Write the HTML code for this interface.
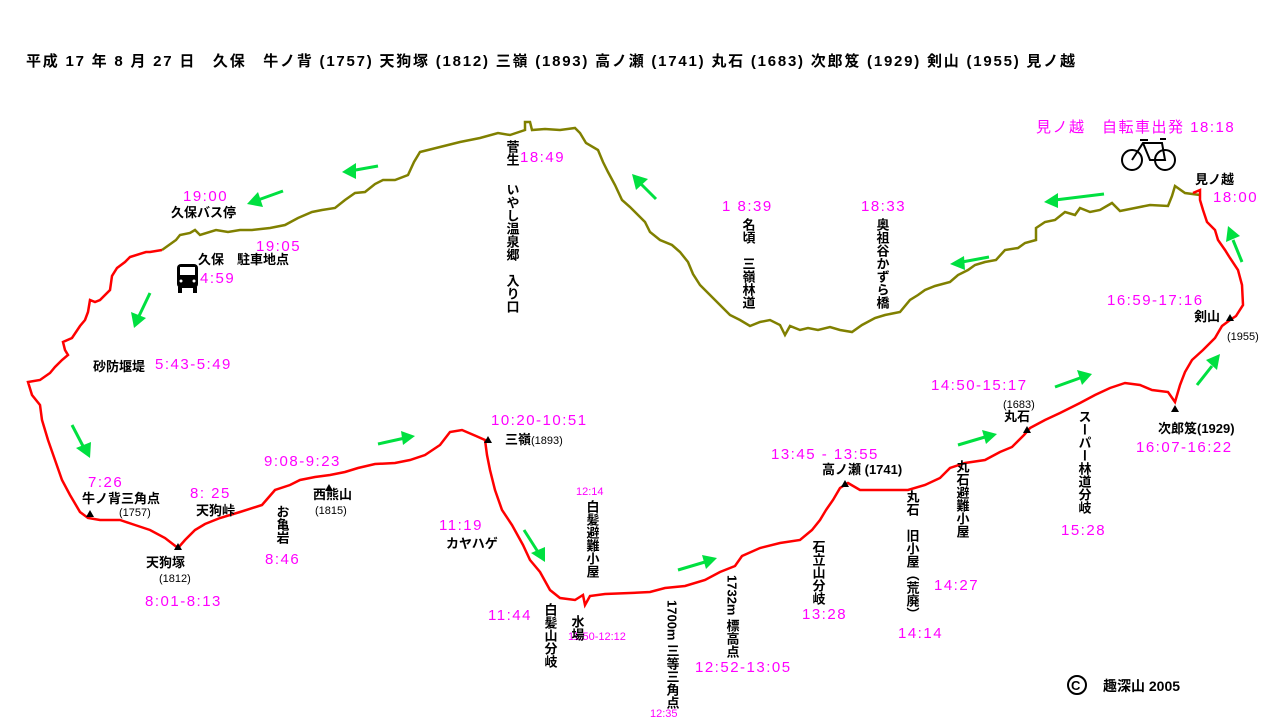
<!DOCTYPE html>
<html><head><meta charset="utf-8"><style>
html,body{margin:0;padding:0;background:#fff;}
svg{display:block;}
text{font-family:"Liberation Sans","Noto Sans CJK JP",sans-serif;}
.b{font-size:13px;fill:#000;font-weight:bold;}
.m{font-size:15px;fill:#ff00ff;letter-spacing:1.5px;}
</style></head><body>
<svg width="1280" height="725" viewBox="0 0 1280 725" xmlns="http://www.w3.org/2000/svg">
<rect width="1280" height="725" fill="#fff"/>
<text x="26" y="66" style="font-size:15px;font-weight:bold" fill="#000" textLength="1049" lengthAdjust="spacing">平成 17 年 8 月 27 日　久保　牛ノ背 (1757) 天狗塚 (1812) 三嶺 (1893) 高ノ瀬 (1741) 丸石 (1683) 次郎笈 (1929) 剣山 (1955) 見ノ越</text>

<polyline fill="none" stroke="#808000" stroke-width="2.5" points="1200,195 1185,193 1175,186 1172,196 1168,206 1150,205 1135,208 1120,211 1112,203 1100,210 1090,212 1080,208 1075,215 1065,212 1055,220 1045,222 1036,228 1036,240 1025,243 1018,248 1005,250 996,260 985,262 975,265 968,270 958,275 950,282 935,286 925,290 918,295 910,300 900,312 885,315 875,318 862,325 852,332 840,330 830,327 818,330 808,328 800,330 790,326 785,335 780,325 770,320 760,322 750,326 740,320 730,315 720,305 710,295 700,285 693,274 688,262 680,252 672,245 660,240 650,232 645,222 638,215 630,207 622,200 615,185 608,172 603,162 598,150 586,143 580,133 575,128 560,130 545,129 532,130 530,122 525,122 525,130 510,135 498,133 480,138 460,142 440,147 420,152 414,162 408,175 395,180 383,180 375,184 365,192 355,193 345,200 335,208 322,210 312,212 298,218 285,225 270,228 252,230 240,230 228,232 216,230 200,235 195,230 190,233 180,235 176,240 162,250"/>

<polyline fill="none" stroke="#ff0000" stroke-width="2.5" points="162,250 150,252 146,252 130,257 125,262 117,268 112,276 110,290 100,300 95,302 90,300 88,312 85,320 80,326 72,338 63,342 65,350 68,355 62,360 55,367 50,373 40,380 28,382 32,395 40,405 42,420 48,440 55,460 62,480 70,495 80,512 88,518 100,520 120,520 135,525 150,530 165,538 178,548 185,540 195,530 205,524 220,518 240,512 262,505 275,490 290,485 300,480 315,477 330,475 345,472 358,468 375,464 395,463 410,460 425,455 440,445 450,432 462,430 476,436 485,440 487,455 490,470 495,490 502,510 512,525 523,545 530,560 540,572 550,590 560,598 575,600 583,595 585,605 590,596 605,594 630,593 650,592 665,588 685,586 705,580 720,572 735,566 742,556 760,548 780,543 800,540 812,530 820,520 826,510 833,500 840,488 848,483 860,490 875,490 890,490 908,490 925,485 940,478 950,468 965,463 985,460 1000,452 1012,447 1024,435 1030,428 1045,420 1060,413 1080,403 1095,395 1110,388 1125,383 1140,385 1152,390 1168,392 1175,402 1180,385 1185,372 1192,360 1203,350 1215,338 1222,326 1230,320 1236,316 1243,305 1242,285 1238,270 1230,258 1225,250 1218,240 1215,230 1207,222 1203,210 1200,200 1200,190 1193,193"/>

<g fill="#00e040" stroke="#00e040" stroke-width="3">
<line x1="378" y1="166" x2="350" y2="171"/><polygon points="342,172 356,163 356,179" stroke="none"/>
<line x1="283" y1="191" x2="258" y2="200"/><polygon points="247,204 258,192 263,207" stroke="none"/>
<line x1="150" y1="293" x2="139" y2="316"/><polygon points="134,328 131,312 146,318" stroke="none"/>
<line x1="72" y1="425" x2="84" y2="448"/><polygon points="90,458 76,448 91,442" stroke="none"/>
<line x1="378" y1="444" x2="405" y2="438"/><polygon points="415,436 401,431 403,445" stroke="none"/>
<line x1="524" y1="530" x2="538" y2="552"/><polygon points="545,562 531,553 545,547" stroke="none"/>
<line x1="678" y1="570" x2="705" y2="562"/><polygon points="717,558 702,555 706,569" stroke="none"/>
<line x1="958" y1="445" x2="985" y2="437"/><polygon points="997,434 982,430 986,444" stroke="none"/>
<line x1="1055" y1="387" x2="1080" y2="378"/><polygon points="1092,374 1077,370 1082,385" stroke="none"/>
<line x1="1197" y1="385" x2="1212" y2="366"/><polygon points="1220,354 1206,360 1217,370" stroke="none"/>
<line x1="1242" y1="262" x2="1233" y2="240"/><polygon points="1228,226 1226,242 1240,236" stroke="none"/>
<line x1="1104" y1="194" x2="1055" y2="200"/><polygon points="1044,202 1058,193 1058,208" stroke="none"/>
<line x1="989" y1="257" x2="962" y2="262"/><polygon points="950,264 964,256 965,270" stroke="none"/>
<line x1="656" y1="199" x2="641" y2="184"/><polygon points="632,174 636,190 648,179" stroke="none"/>
</g>

<g fill="#000">
<polygon points="90,510 94,517 86,517"/><polygon points="178,543 182,550 174,550"/><polygon points="329,484 333,491 325,491"/>
<polygon points="488,436 492,443 484,443"/><polygon points="845,480 849,487 841,487"/><polygon points="1027,426 1031,433 1023,433"/>
<polygon points="1175,405 1179,412 1171,412"/><polygon points="1230,314 1234,321 1226,321"/>
</g>

<g>
<rect x="177" y="264" width="21" height="24" rx="4" fill="#000"/>
<rect x="180" y="267" width="15" height="8" fill="#fff"/>
<rect x="178" y="287" width="4" height="6" fill="#000"/><rect x="193" y="287" width="4" height="6" fill="#000"/>
<circle cx="181" cy="281" r="1.5" fill="#fff"/><circle cx="194" cy="281" r="1.5" fill="#fff"/>
</g>
<g fill="none" stroke="#000" stroke-width="2">
<circle cx="1132" cy="160" r="10"/><circle cx="1165" cy="160" r="10"/>
<polyline points="1132,160 1143,143 1162,143 1165,160 1150,160 1143,143"/>
<line x1="1140" y1="140" x2="1148" y2="140"/><line x1="1160" y1="139" x2="1166" y2="139"/>
</g>

<g class="m">
<text x="1036" y="132">見ノ越　自転車出発 18:18</text>
<text x="1213" y="202">18:00</text>
<text x="1107" y="305">16:59-17:16</text>
<text x="931" y="390">14:50-15:17</text>
<text x="1136" y="452">16:07-16:22</text>
<text x="771" y="459">13:45 - 13:55</text>
<text x="1061" y="535">15:28</text>
<text x="934" y="590">14:27</text>
<text x="898" y="638">14:14</text>
<text x="802" y="619">13:28</text>
<text x="695" y="672">12:52-13:05</text>
<text x="488" y="620">11:44</text>
<text x="439" y="530">11:19</text>
<text x="491" y="425">10:20-10:51</text>
<text x="264" y="466">9:08-9:23</text>
<text x="190" y="498">8: 25</text>
<text x="265" y="564">8:46</text>
<text x="145" y="606">8:01-8:13</text>
<text x="88" y="487">7:26</text>
<text x="155" y="369">5:43-5:49</text>
<text x="200" y="283">4:59</text>
<text x="256" y="251">19:05</text>
<text x="183" y="201">19:00</text>
<text x="520" y="162">18:49</text>
<text x="722" y="211">1 8:39</text>
<text x="861" y="211">18:33</text>
</g>
<g style="font-size:11px" fill="#ff00ff">
<text x="576" y="495">12:14</text>
<text x="568" y="640">11:50-12:12</text>
<text x="650" y="717">12:35</text>
</g>

<g class="b">
<text x="1195" y="184">見ノ越</text>
<text x="1194" y="321">剣山</text>
<text x="1227" y="340" style="font-size:11px;font-weight:normal">(1955)</text>
<text x="1158" y="433">次郎笈(1929)</text>
<text x="1003" y="408" style="font-size:11px;font-weight:normal">(1683)</text>
<text x="1004" y="421">丸石</text>
<text x="822" y="474">高ノ瀬 (1741)</text>
<text x="505" y="444">三嶺<tspan style="font-size:11px;font-weight:normal">(1893)</tspan></text>
<text x="313" y="499">西熊山</text>
<text x="315" y="514" style="font-size:11px;font-weight:normal">(1815)</text>
<text x="196" y="515">天狗峠</text>
<text x="82" y="503">牛ノ背三角点</text>
<text x="119" y="516" style="font-size:11px;font-weight:normal">(1757)</text>
<text x="146" y="567">天狗塚</text>
<text x="159" y="582" style="font-size:11px;font-weight:normal">(1812)</text>
<text x="446" y="548">カヤハゲ</text>
<text x="93" y="371">砂防堰堤</text>
<text x="198" y="264">久保　駐車地点</text>
<text x="171" y="217">久保バス停</text>
<text x="1103" y="691" style="font-size:14px">趣深山 2005</text>
</g>
<circle cx="1077" cy="685" r="9" fill="none" stroke="#000" stroke-width="2"/>
<text x="1071" y="690" style="font-size:13px;font-weight:bold">C</text>

<g class="b" style="writing-mode:tb">
<text x="512" y="140">菅生</text>
<text x="512" y="183">いやし温泉郷　入り口</text>
<text x="748" y="218">名頃　三嶺林道</text>
<text x="882" y="218">奥祖谷かずら橋</text>
<text x="1084" y="410">スーパー林道分岐</text>
<text x="962" y="460">丸石避難小屋</text>
<text x="912" y="490">丸石　旧小屋（荒廃）</text>
<text x="818" y="540">石立山分岐</text>
<text x="732" y="575">1732m 標高点</text>
<text x="672" y="600">1700m 三等三角点</text>
<text x="592" y="500">白髪避難小屋</text>
<text x="550" y="603">白髪山分岐</text>
<text x="577" y="615">水場</text>
<text x="282" y="505">お亀岩</text>
</g>
</svg>
</body></html>
